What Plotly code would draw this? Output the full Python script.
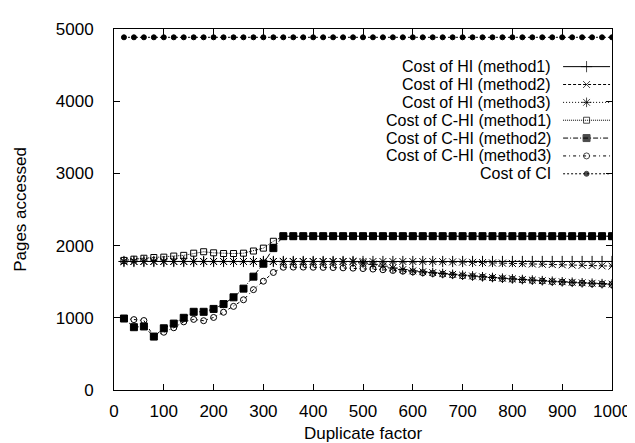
import plotly.graph_objects as go

# ---- data ----
x_vals = [20, 40, 60, 80, 100, 120, 140, 160, 180, 200,
          220, 240, 260, 280, 300, 320, 340, 360, 380, 400,
          420, 440, 460, 480, 500, 520, 540, 560, 580, 600,
          620, 640, 660, 680, 700, 720, 740, 760, 780, 800,
          820, 840, 860, 880, 900, 920, 940, 960, 980, 1000]

hi_m1 = [1780] * 50

hi_m2 = [1780] * 32 + [1778, 1775, 1772, 1768, 1765, 1760, 1757, 1753, 1750,
                       1746, 1742, 1738, 1735, 1731, 1727, 1724, 1720, 1716]

hi_m3 = [1780] * 24 + [1760, 1740, 1715, 1690, 1668, 1650, 1638, 1626, 1614,
                       1602, 1590, 1579, 1568, 1558, 1548, 1539, 1530, 1522,
                       1514, 1506, 1499, 1492, 1485, 1479, 1473, 1467]

chi_m1 = [1795, 1812, 1825, 1835, 1840, 1855, 1865, 1895, 1915, 1900,
          1890, 1890, 1895, 1925, 1965, 2060] + [2130] * 34

chi_m2 = [990, 870, 880, 740, 855, 920, 1000, 1083, 1083, 1123,
          1190, 1284, 1404, 1570, 1749, 1965] + [2130] * 34

chi_m3 = [990, 975, 962, 740, 800, 862, 944, 978, 960, 1005,
          1077, 1158, 1250, 1390, 1507, 1628,
          1700, 1702, 1702, 1700, 1698, 1696, 1692, 1688, 1682, 1675,
          1666, 1656, 1646, 1636, 1625, 1614, 1603, 1592, 1581, 1571,
          1561, 1551, 1542, 1533, 1524, 1516, 1508, 1500, 1493, 1486,
          1479, 1472, 1466, 1460]

ci = [4885] * 50

x_ticks = [0, 100, 200, 300, 400, 500, 600, 700, 800, 900, 1000]
y_ticks = [0, 1000, 2000, 3000, 4000, 5000]

names = ["Cost of HI (method1)", "Cost of HI (method2)", "Cost of HI (method3)",
         "Cost of C-HI (method1)", "Cost of C-HI (method2)", "Cost of C-HI (method3)",
         "Cost of CI"]
series = [hi_m1, hi_m2, hi_m3, chi_m1, chi_m2, chi_m3, ci]

# ---- styles ----
symbols = ["cross-thin-open", "x-thin-open", "asterisk-open",
           "square-open", "square", "circle-open", "circle"]
sizes = [8, 7, 8, 6, 7, 6, 5]
dashes = ["solid", "3px,2px", "1px,2px", "1px,1px",
          "5px,2px,1px,2px", "3px,3px,1px,3px", "2px,2px"]

FONT = "Liberation Sans, Arial, Helvetica, sans-serif"
FS = 17
LEG_FS = 16

fig = go.Figure()

for name, ys, sym, sz, dsh in zip(names, series, symbols, sizes, dashes):
    fig.add_trace(go.Scatter(
        x=x_vals, y=ys, mode="lines+markers", name=name, showlegend=False,
        line=dict(color="black", width=1, dash=dsh),
        marker=dict(symbol=sym, size=sz, color="black",
                    line=dict(color="black", width=1)),
    ))

# ---- hand-drawn legend (text to the left of the sample, as in gnuplot) ----
L_TEXT_RIGHT = 551
L_X0, L_XM, L_X1 = 562, 586, 610
L_ROW0, L_STEP = 55, 18.5
for i, (name, sym, sz, dsh) in enumerate(zip(names, symbols, sizes, dashes)):
    yy = L_ROW0 + i * L_STEP
    fig.add_trace(go.Scatter(
        x=[L_X0, L_XM, L_X1], y=[yy, yy, yy], xaxis="x2", yaxis="y2",
        mode="lines+markers", showlegend=False, hoverinfo="skip",
        line=dict(color="black", width=1, dash=dsh),
        marker=dict(symbol=sym, size=[0, sz, 0], color="black",
                    line=dict(color="black", width=1)),
    ))
    fig.add_annotation(x=L_TEXT_RIGHT, y=yy, xref="x2", yref="y2",
                       text=name, showarrow=False, xanchor="right",
                       yanchor="middle", borderpad=0,
                       font=dict(family=FONT, size=LEG_FS, color="black"))

axis_common = dict(showline=True, linecolor="black", linewidth=1, mirror="ticks",
                   ticks="inside", ticklen=6, tickwidth=1, tickcolor="black",
                   showgrid=False, zeroline=False,
                   tickfont=dict(family=FONT, size=FS, color="black"))

fig.update_layout(
    width=635, height=443,
    margin=dict(l=103, r=23, t=16, b=53),
    paper_bgcolor="white", plot_bgcolor="white",
    font=dict(family=FONT, size=FS, color="black"),
    showlegend=False,
    xaxis=dict(range=[0, 1000], tickvals=x_ticks, ticklabelstandoff=6,
               title=dict(text="Duplicate factor", standoff=6,
                          font=dict(family=FONT, size=FS)),
               **axis_common),
    yaxis=dict(range=[0, 5000], tickvals=y_ticks, ticklabelstandoff=16,
               title=dict(text="Pages accessed", standoff=24,
                          font=dict(family=FONT, size=FS)),
               **axis_common),
    xaxis2=dict(overlaying="x", range=[103, 612], visible=False, fixedrange=True),
    yaxis2=dict(overlaying="y", range=[390, 16], visible=False, fixedrange=True),
)

fig.write_html("out.html")
